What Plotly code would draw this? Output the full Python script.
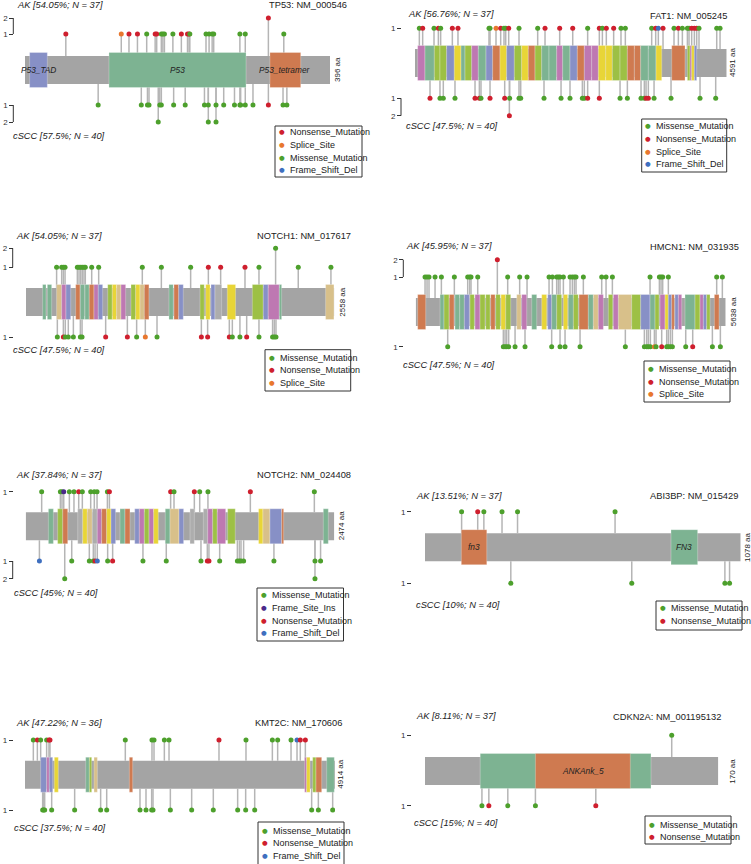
import plotly.graph_objects as go

W, H = 751, 864
FONT = "Liberation Sans, Arial, sans-serif"

# ---------------- data ----------------
MUT_NAMES = {"M": "Missense_Mutation", "N": "Nonsense_Mutation", "S": "Splice_Site",
             "D": "Frame_Shift_Del", "I": "Frame_Site_Ins"}
MUT_COLORS = {"M": "#4DA02C", "N": "#CF1F2E", "S": "#E8772E", "D": "#3F6FBF", "I": "#4B2A8A"}
DOM_COLORS = {"T": "#7DB392", "B": "#8790C6", "O": "#CF7A50", "P": "#BE78B2", "Y": "#E8D537",
              "G": "#9DC045", "N": "#D8C08A", "Z": "#ADADAD"}
BODY = "#A4A4A4"

genes = ["TP53", "FAT1", "NOTCH1", "HMCN1", "NOTCH2", "ABI3BP", "KMT2C", "CDKN2A"]
refseq = ["NM_000546", "NM_005245", "NM_017617", "NM_031935", "NM_024408", "NM_015429",
          "NM_170606", "NM_001195132"]
lengths = [396, 4591, 2558, 5638, 2474, 1078, 4914, 170]
ak_pct = ["54.05", "56.76", "54.05", "45.95", "37.84", "13.51", "47.22", "8.11"]
ak_n = [37, 37, 37, 37, 37, 37, 36, 37]
cscc_pct = ["57.5", "47.5", "47.5", "47.5", "45", "10", "37.5", "15"]
cscc_n = [40, 40, 40, 40, 40, 40, 40, 40]
legend_types = [["N", "S", "M", "D"], ["M", "N", "S", "D"], ["M", "N", "S"], ["M", "N", "S"],
                ["M", "I", "N", "D"], ["M", "N"], ["M", "N", "D"], ["M", "N"]]

# domains: (start, end, colour key, label)
TP53_dom = [(6, 29, "B", "P53_TAD"), (109, 287, "T", "P53"), (318, 358, "O", "P53_tetramer")]
FAT1_dom = [(39, 147, "P", ""), (147, 285, "T", ""), (285, 368, "G", ""), (368, 466, "G", ""),
            (466, 579, "B", ""), (579, 678, "Y", ""), (678, 737, "T", ""), (737, 835, "G", ""),
            (835, 933, "P", ""), (933, 1046, "T", ""), (1046, 1144, "B", ""), (1144, 1252, "O", ""),
            (1252, 1350, "Y", ""), (1350, 1463, "B", ""), (1463, 1571, "G", ""), (1571, 1669, "Y", ""),
            (1669, 1768, "O", ""), (1768, 1866, "G", ""), (1866, 1974, "T", ""), (1974, 2087, "T", ""),
            (2087, 2175, "P", ""), (2175, 2283, "T", ""), (2283, 2391, "B", ""), (2391, 2494, "O", ""),
            (2494, 2602, "P", ""), (2602, 2701, "P", ""), (2701, 2809, "Y", ""), (2809, 2907, "Y", ""),
            (2907, 3020, "G", ""), (3020, 3128, "G", ""), (3128, 3231, "O", ""), (3231, 3324, "O", ""),
            (3324, 3437, "T", ""), (3437, 3550, "T", ""), (3550, 3634, "Y", ""), (3781, 3977, "O", ""),
            (4012, 4051, "G", ""), (4051, 4075, "P", ""), (4075, 4115, "Y", ""), (4115, 4149, "B", "")]
NOTCH1_dom = [(138, 166, "T", ""), (177, 213, "T", ""), (254, 296, "N", ""), (296, 332, "P", ""),
              (332, 371, "B", ""), (412, 448, "O", ""), (451, 487, "T", ""), (489, 525, "T", ""),
              (525, 564, "O", ""), (564, 600, "P", ""), (600, 636, "B", ""), (678, 716, "G", ""),
              (716, 752, "Y", ""), (752, 788, "N", ""), (788, 827, "P", ""), (871, 910, "G", ""),
              (910, 946, "Y", ""), (946, 982, "N", ""), (982, 1020, "O", ""), (1186, 1222, "T", ""),
              (1228, 1267, "O", ""), (1267, 1305, "B", ""), (1444, 1479, "G", ""), (1491, 1527, "Y", ""),
              (1535, 1568, "B", ""), (1568, 1623, "Z", ""), (1670, 1739, "Y", ""), (1878, 1969, "G", ""),
              (1969, 2010, "B", ""), (2010, 2102, "P", ""), (2102, 2121, "T", ""), (2486, 2555, "N", "")]
HMCN1_dom = [(36, 182, "O", ""), (443, 515, "T", ""), (515, 606, "G", ""), (612, 697, "O", ""),
             (715, 800, "T", ""), (800, 885, "T", ""), (885, 976, "B", ""), (988, 1067, "G", ""),
             (1079, 1170, "P", ""), (1170, 1261, "G", ""), (1273, 1352, "G", ""), (1364, 1443, "O", ""),
             (1455, 1540, "G", ""), (1552, 1637, "Y", ""), (1637, 1728, "G", ""), (1837, 1916, "N", ""),
             (1928, 2019, "P", ""), (2110, 2201, "T", ""), (2292, 2382, "Y", ""), (2401, 2473, "B", ""),
             (2473, 2564, "T", ""), (2564, 2655, "G", ""), (2686, 2764, "Y", ""), (2776, 2868, "T", ""),
             (2868, 2958, "G", ""), (2971, 3140, "O", ""), (3140, 3231, "T", ""), (3231, 3322, "N", ""),
             (3322, 3413, "P", ""), (3504, 3583, "G", ""), (3595, 3686, "P", ""), (3686, 3928, "N", ""),
             (3928, 4092, "G", ""), (4092, 4262, "B", ""), (4262, 4353, "T", ""), (4353, 4426, "G", ""),
             (4444, 4535, "P", ""), (4535, 4595, "Y", ""), (4595, 4656, "B", ""), (4656, 4704, "O", ""),
             (4716, 4777, "B", ""), (4777, 4838, "P", ""), (4898, 5080, "T", ""), (5080, 5171, "G", ""),
             (5171, 5232, "P", ""), (5232, 5292, "B", ""), (5292, 5353, "G", ""), (5432, 5517, "O", "")]
NOTCH2_dom = [(182, 222, "T", ""), (256, 297, "G", ""), (297, 337, "O", ""), (417, 457, "Z", ""),
              (457, 494, "Y", ""), (494, 534, "N", ""), (534, 574, "Z", ""), (574, 609, "P", ""),
              (609, 649, "O", ""), (649, 684, "Y", ""), (684, 721, "B", ""), (756, 796, "T", ""),
              (796, 836, "O", ""), (874, 911, "B", ""), (911, 951, "P", ""), (951, 989, "G", ""),
              (989, 1026, "P", ""), (1026, 1063, "Y", ""), (1119, 1157, "T", ""), (1157, 1229, "N", ""),
              (1229, 1266, "B", ""), (1317, 1352, "Z", ""), (1424, 1459, "Z", ""), (1459, 1499, "P", ""),
              (1499, 1536, "G", ""), (1536, 1603, "P", ""), (1619, 1680, "G", ""), (1867, 1902, "Y", ""),
              (1902, 1958, "N", ""), (1958, 2052, "B", ""), (2052, 2068, "O", ""), (2386, 2426, "T", "")]
ABI3BP_dom = [(124, 211, "O", "fn3"), (840, 931, "T", "FN3")]
KMT2C_dom = [(248, 343, "B", ""), (343, 386, "P", ""), (386, 439, "B", ""), (465, 528, "Y", ""),
             (962, 1020, "T", ""), (1020, 1057, "G", ""), (1094, 1147, "N", ""), (1654, 1707, "O", ""),
             (4433, 4465, "P", ""), (4465, 4518, "Y", ""), (4560, 4613, "G", ""), (4613, 4703, "O", ""),
             (4782, 4903, "T", "")]
CDKN2A_dom = [(32, 131, "T", ""), (64, 119, "O", "ANKAnk_5")]

# mutations: (protein position, number of samples, type)
TP53_ak = [(53, 1, "N"), (125, 1, "S"), (135, 1, "N"), (146, 1, "N"), (158, 1, "M"), (169, 1, "N"),
           (171, 1, "N"), (177, 1, "M"), (179, 1, "M"), (181, 1, "M"), (192, 1, "M"), (203, 1, "N"),
           (211, 1, "N"), (213, 1, "N"), (214, 1, "M"), (235, 1, "M"), (239, 1, "M"), (243, 1, "M"),
           (245, 1, "M"), (279, 1, "M"), (286, 1, "M"), (316, 2, "N"), (336, 1, "M")]
TP53_cscc = [(95, 1, "M"), (151, 1, "M"), (159, 1, "M"), (161, 1, "M"), (173, 2, "M"), (175, 1, "M"),
             (177, 1, "M"), (193, 1, "M"), (208, 1, "M"), (233, 1, "M"), (238, 1, "M"), (238, 2, "M"),
             (248, 1, "M"), (248, 2, "M"), (258, 1, "M"), (272, 1, "M"), (279, 1, "M"), (280, 1, "M"),
             (286, 1, "M"), (296, 1, "M"), (316, 1, "N"), (335, 1, "M"), (340, 1, "M")]
FAT1_ak = [(64, 1, "M"), (113, 1, "N"), (280, 1, "M"), (344, 1, "N"), (378, 1, "M"), (550, 1, "N"),
           (633, 1, "N"), (1090, 1, "M"), (1105, 1, "M"), (1193, 1, "S"), (1262, 1, "N"), (1311, 1, "M"),
           (1336, 1, "M"), (1380, 1, "N"), (1532, 1, "M"), (1807, 1, "M"), (1915, 1, "N"), (2131, 1, "N"),
           (2323, 1, "N"), (2543, 1, "M"), (2715, 1, "N"), (2760, 1, "M"), (2818, 1, "N"), (2926, 1, "N"),
           (3034, 1, "M"), (3098, 1, "M"), (3486, 1, "M"), (3545, 1, "N"), (3584, 1, "D"), (3653, 1, "N"),
           (3815, 1, "M"), (3879, 1, "N"), (3938, 1, "M"), (4012, 1, "M"), (4036, 1, "M"), (4075, 1, "N"),
           (4115, 1, "N"), (4149, 1, "N"), (4183, 1, "M"), (4444, 1, "M"), (4493, 1, "M")]
FAT1_cscc = [(221, 1, "N"), (368, 1, "M"), (417, 1, "M"), (589, 1, "M"), (884, 1, "N"), (948, 1, "N"),
             (972, 1, "M"), (1105, 1, "N"), (1321, 1, "N"), (1390, 2, "N"), (1394, 1, "M"), (1532, 1, "M"),
             (1557, 1, "M"), (1900, 1, "M"), (2151, 1, "M"), (2283, 1, "M"), (2465, 1, "M"), (2494, 1, "M"),
             (2543, 1, "N"), (2715, 1, "N"), (3020, 1, "M"), (3128, 1, "M"), (3329, 1, "M"), (3378, 1, "M"),
             (3403, 1, "N"), (3437, 1, "N"), (3521, 1, "M"), (3771, 1, "M"), (4198, 1, "M"), (4429, 1, "M")]
NOTCH1_ak = [(254, 1, "M"), (296, 1, "M"), (310, 1, "M"), (324, 1, "M"), (426, 1, "M"), (440, 1, "M"),
             (454, 1, "M"), (467, 1, "M"), (481, 1, "M"), (492, 1, "M"), (545, 1, "M"), (603, 1, "M"),
             (965, 1, "M"), (1123, 1, "M"), (1366, 1, "M"), (1513, 1, "N"), (1615, 1, "N"), (1817, 1, "N"),
             (1933, 1, "M"), (2071, 2, "M"), (2259, 1, "M"), (2530, 1, "M")]
NOTCH1_cscc = [(260, 1, "M"), (310, 1, "N"), (326, 1, "M"), (351, 1, "M"), (393, 1, "M"), (451, 1, "M"),
               (465, 1, "M"), (661, 1, "N"), (841, 1, "N"), (918, 1, "M"), (990, 1, "S"), (1087, 1, "M"),
               (1455, 1, "N"), (1507, 1, "N"), (1687, 1, "N"), (1712, 1, "M"), (1775, 1, "M"),
               (1831, 1, "N"), (1933, 1, "M"), (2046, 1, "M"), (2060, 1, "M"), (2074, 1, "M")]
HMCN1_ak = [(170, 1, "M"), (206, 1, "M"), (242, 1, "M"), (352, 1, "M"), (467, 1, "M"), (703, 1, "M"),
            (946, 1, "M"), (982, 1, "M"), (1006, 1, "M"), (1128, 1, "M"), (1485, 2, "N"), (1673, 1, "M"),
            (1891, 1, "M"), (2025, 1, "M"), (2425, 1, "M"), (2486, 1, "M"), (2564, 1, "M"), (2595, 1, "M"),
            (2625, 1, "M"), (2686, 1, "M"), (2807, 1, "M"), (2849, 1, "M"), (2886, 1, "M"), (2916, 1, "M"),
            (3049, 1, "M"), (3383, 1, "M"), (3462, 1, "M"), (3577, 1, "M"), (4262, 1, "M"), (4432, 1, "M"),
            (4462, 1, "M"), (4492, 1, "M"), (4595, 1, "M"), (5474, 1, "M"), (5577, 1, "M")]
HMCN1_cscc = [(582, 1, "M"), (1594, 1, "M"), (1625, 1, "M"), (1655, 1, "M"), (1691, 1, "M"), (1807, 1, "M"),
              (1988, 1, "M"), (2473, 1, "M"), (2625, 1, "M"), (2716, 1, "M"), (2989, 1, "M"), (3813, 1, "M"),
              (4159, 1, "M"), (4201, 1, "M"), (4231, 1, "M"), (4268, 1, "M"), (4341, 1, "S"), (4371, 1, "M"),
              (4474, 1, "N"), (4565, 1, "M"), (4595, 1, "M"), (4632, 1, "M"), (4668, 1, "M"), (4911, 1, "M"),
              (5038, 1, "N"), (5396, 1, "M"), (5541, 1, "M")]
NOTCH2_ak = [(128, 1, "M"), (278, 1, "M"), (291, 1, "M"), (305, 1, "I"), (350, 1, "M"), (387, 1, "M"),
             (425, 1, "N"), (454, 1, "M"), (521, 1, "M"), (550, 1, "M"), (572, 1, "M"), (655, 1, "M"),
             (671, 1, "N"), (1162, 1, "N"), (1189, 1, "M"), (1352, 1, "N"), (1395, 1, "M"), (1461, 1, "M"),
             (1801, 1, "N"), (2314, 1, "M")]
NOTCH2_cscc = [(110, 1, "D"), (313, 2, "M"), (369, 1, "M"), (510, 1, "M"), (542, 1, "M"), (556, 1, "N"),
               (574, 1, "D"), (657, 1, "M"), (697, 1, "N"), (940, 1, "M"), (1127, 1, "M"), (1405, 1, "M"),
               (1456, 1, "N"), (1469, 1, "N"), (1555, 1, "M"), (1697, 1, "M"), (1713, 1, "M"), (1726, 1, "M"),
               (1747, 1, "M"), (1990, 1, "M"), (2319, 1, "M"), (2319, 2, "M"), (2364, 1, "M")]
ABI3BP_ak = [(125, 1, "M"), (180, 1, "N"), (201, 1, "M"), (263, 1, "M"), (316, 1, "M"), (649, 1, "M")]
ABI3BP_cscc = [(293, 1, "M"), (706, 1, "M"), (1024, 1, "M"), (1040, 1, "M")]
KMT2C_ak = [(132, 1, "M"), (196, 1, "N"), (248, 1, "M"), (343, 1, "M"), (380, 1, "N"), (396, 1, "N"),
            (1590, 1, "M"), (2013, 1, "M"), (2045, 1, "M"), (2209, 1, "M"), (2283, 1, "M"), (3075, 1, "N"),
            (3503, 1, "M"), (3921, 1, "M"), (4005, 1, "M"), (4217, 1, "M"), (4312, 1, "D"), (4364, 1, "N"),
            (4444, 1, "N")]
KMT2C_cscc = [(280, 1, "M"), (296, 1, "M"), (312, 1, "M"), (423, 1, "M"), (787, 1, "M"), (1199, 1, "M"),
              (1295, 1, "M"), (1823, 1, "M"), (1918, 1, "M"), (2008, 1, "M"), (2029, 1, "M"), (2304, 1, "M"),
              (2642, 1, "M"), (2985, 1, "M"), (3371, 1, "M"), (3498, 1, "M"), (3641, 1, "M"), (4544, 1, "M"),
              (4650, 1, "M"), (4877, 1, "M")]
CDKN2A_ak = [(143, 1, "M")]
CDKN2A_cscc = [(33, 1, "M"), (37, 1, "N"), (48, 1, "M"), (64, 1, "M"), (99, 1, "N")]

domains = [TP53_dom, FAT1_dom, NOTCH1_dom, HMCN1_dom, NOTCH2_dom, ABI3BP_dom, KMT2C_dom, CDKN2A_dom]
ak_muts = [TP53_ak, FAT1_ak, NOTCH1_ak, HMCN1_ak, NOTCH2_ak, ABI3BP_ak, KMT2C_ak, CDKN2A_ak]
cscc_muts = [TP53_cscc, FAT1_cscc, NOTCH1_cscc, HMCN1_cscc, NOTCH2_cscc, ABI3BP_cscc, KMT2C_cscc,
             CDKN2A_cscc]

# ---------------- layout geometry (pixels) ----------------
geo = [
    dict(gx0=25, gx1=330, cy=70, ak1=36, aks=16, sc1=35, scs=17, axx=13.3, akl=(15, 5), ttl=(349, 5),
         aax=337, scl=(11, 136), leg=(275, 126, 362, 177), ly=132, ldy=12.8),
    dict(gx0=415, gx1=726.7, cy=63, ak1=34.7, aks=17, sc1=35.3, scs=17.4, axx=401, akl=(406, 14),
         ttl=(729, 15.7), aax=733, scl=(404, 126), leg=(641.7, 119, 726.7, 172), ly=126, ldy=12.8),
    dict(gx0=26, gx1=334.3, cy=302, ak1=34.7, aks=19, sc1=35, scs=17, axx=12.7, akl=(14, 235.7),
         ttl=(352.7, 235.7), aax=341.7, scl=(11, 350), leg=(265, 349.7, 350.7, 391), ly=357.7, ldy=12.7),
    dict(gx0=415.7, gx1=725.7, cy=312, ak1=35, aks=17.3, sc1=34.7, scs=17, axx=403.3, akl=(404.3, 245.7),
         ttl=(740.7, 246.7), aax=733.3, scl=(401, 365), leg=(644, 361, 730, 402), ly=369, ldy=12.7),
    dict(gx0=25.7, gx1=334.3, cy=526.3, ak1=34.6, aks=17, sc1=34.7, scs=17.7, axx=12.7, akl=(14, 475),
         ttl=(352.7, 475), aax=341, scl=(11.7, 593.3), leg=(257, 588, 343.5, 641), ly=595, ldy=12.8),
    dict(gx0=425, gx1=740.7, cy=547.2, ak1=35.5, aks=17, sc1=36.1, scs=17, axx=411, akl=(414, 496),
         ttl=(740, 496), aax=746.7, scl=(414, 605), leg=(656, 601, 742, 630), ly=608, ldy=12.5),
    dict(gx0=25, gx1=335, cy=774.7, ak1=34.7, aks=17, sc1=35.3, scs=17, axx=12.7, akl=(14, 723.3),
         ttl=(344, 723.3), aax=341, scl=(11.7, 827.7), leg=(258, 822, 344, 870), ly=830.5, ldy=12.8),
    dict(gx0=425, gx1=718.3, cy=771, ak1=35.7, aks=17, sc1=34.7, scs=17, axx=411, akl=(414, 716),
         ttl=(723.3, 716.7), aax=731.7, scl=(411.7, 823.3), leg=(645, 816, 731, 844), ly=824.5, ldy=12.8),
]
R = 60          # half height (px) of each panel's y range
BODY_H = 14     # half height of gene body
DOM_H = 17.5    # half height of domains
TXT = 9.3       # size of panel labels
LEGTXT = 9      # size of legend labels


def px(x):
    return x / W


def py(y):
    return 1 - y / H


fig = go.Figure()
shapes, annots = [], []
layout_axes = {}

for k, g in enumerate(genes):
    n = k + 1
    G = geo[k]
    xr = "x" if n == 1 else f"x{n}"
    yr = "y" if n == 1 else f"y{n}"
    L = lengths[k]

    ak_off = lambda c, G=G: G["ak1"] + (c - 1) * G["aks"]
    sc_off = lambda c, G=G: -(G["sc1"] + (c - 1) * G["scs"])

    max_ak = max(m[1] for m in ak_muts[k])
    max_sc = max(m[1] for m in cscc_muts[k])
    tickvals = [ak_off(c) for c in range(1, max_ak + 1)] + [sc_off(c) for c in range(1, max_sc + 1)]
    ticktext = [str(c) for c in range(1, max_ak + 1)] + [str(c) for c in range(1, max_sc + 1)]

    layout_axes["xaxis" if n == 1 else f"xaxis{n}"] = dict(
        domain=[px(G["gx0"]), px(G["gx1"])], range=[0, L], visible=False, anchor=yr, fixedrange=True)
    layout_axes["yaxis" if n == 1 else f"yaxis{n}"] = dict(
        domain=[py(G["cy"] + R), py(G["cy"] - R)], range=[-R, R], anchor="free", position=px(G["axx"]),
        tickvals=tickvals, ticktext=ticktext, ticks="outside", ticklen=4, tickwidth=1, tickcolor="#333",
        showline=False, showgrid=False, zeroline=False, automargin=False, fixedrange=True,
        tickfont=dict(size=8, color="#333", family=FONT))

    # brackets
    if max_ak > 1:
        shapes.append(dict(type="line", xref="paper", yref=yr, x0=px(G["axx"]), x1=px(G["axx"]),
                           y0=ak_off(1), y1=ak_off(max_ak), line=dict(color="#333", width=1)))
    if max_sc > 1:
        shapes.append(dict(type="line", xref="paper", yref=yr, x0=px(G["axx"]), x1=px(G["axx"]),
                           y0=sc_off(1), y1=sc_off(max_sc), line=dict(color="#333", width=1)))

    # gene body
    shapes.append(dict(type="rect", xref=xr, yref=yr, x0=0, x1=L, y0=-BODY_H, y1=BODY_H,
                       fillcolor=BODY, line=dict(width=0), layer="below"))
    # domains
    for s, e, ck, lab in domains[k]:
        shapes.append(dict(type="rect", xref=xr, yref=yr, x0=s, x1=e, y0=-DOM_H, y1=DOM_H,
                           fillcolor=DOM_COLORS[ck], line=dict(color="rgba(255,255,255,0.45)", width=0.6),
                           layer="above"))
    for s, e, ck, lab in domains[k]:
        if lab:
            annots.append(dict(xref=xr, yref=yr, x=(s + e) / 2, y=0, text=f"<i>{lab}</i>", showarrow=False,
                               font=dict(size=8.3, color="#222", family=FONT), xanchor="center",
                               yanchor="middle"))

    # lollipops
    sx, sy, hx, hy, hc, ht = [], [], [], [], [], []
    for muts, off, sign in ((ak_muts[k], ak_off, 1), (cscc_muts[k], sc_off, -1)):
        for pos, cnt, t in muts:
            sx += [pos, pos, None]
            sy += [sign * BODY_H, off(cnt), None]
    fig.add_trace(go.Scatter(x=sx, y=sy, mode="lines", xaxis=xr, yaxis=yr, hoverinfo="skip",
                             line=dict(color="#B5B5B5", width=1.5), showlegend=False))
    for muts, off, grp in ((ak_muts[k], ak_off, "AK"), (cscc_muts[k], sc_off, "cSCC")):
        for pos, cnt, t in muts:
            hx.append(pos)
            hy.append(off(cnt))
            hc.append(MUT_COLORS[t])
            ht.append(f"{grp} {g} aa {pos}: {MUT_NAMES[t]} (n={cnt})")
    fig.add_trace(go.Scatter(x=hx, y=hy, mode="markers", xaxis=xr, yaxis=yr, text=ht, hoverinfo="text",
                             marker=dict(color=hc, size=5, line=dict(width=0)), showlegend=False))

    # texts
    annots.append(dict(xref="paper", yref="paper", x=px(G["akl"][0]), y=py(G["akl"][1]),
                       text=f"<i>AK [{ak_pct[k]}%; N = {ak_n[k]}]</i>", showarrow=False,
                       xanchor="left", yanchor="middle", font=dict(size=TXT, color="#222", family=FONT)))
    annots.append(dict(xref="paper", yref="paper", x=px(G["ttl"][0]), y=py(G["ttl"][1]),
                       text=f"{g}: {refseq[k]}", showarrow=False,
                       xanchor="right", yanchor="middle", font=dict(size=TXT, color="#222", family=FONT)))
    annots.append(dict(xref="paper", yref="paper", x=px(G["scl"][0]), y=py(G["scl"][1]),
                       text=f"<i>cSCC [{cscc_pct[k]}%; N = {cscc_n[k]}]</i>", showarrow=False,
                       xanchor="left", yanchor="middle", font=dict(size=TXT, color="#222", family=FONT)))
    annots.append(dict(xref="paper", yref=yr, x=px(G["aax"]), y=0, text=f"{L} aa", textangle=-90,
                       showarrow=False, xanchor="center", yanchor="middle",
                       font=dict(size=8, color="#222", family=FONT)))

    # legend box
    lx0, ly0, lx1, ly1 = G["leg"]
    shapes.append(dict(type="rect", xref="paper", yref="paper", x0=px(lx0), x1=px(lx1), y0=py(ly1),
                       y1=py(ly0), line=dict(color="#333", width=1), fillcolor="rgba(0,0,0,0)"))
    for j, t in enumerate(legend_types[k]):
        yy = G["ly"] + j * G["ldy"]
        annots.append(dict(xref="paper", yref="paper", x=px(lx0 + 6.7), y=py(yy), text="●",
                           showarrow=False, xanchor="center", yanchor="middle",
                           font=dict(size=6.5, color=MUT_COLORS[t], family="DejaVu Sans")))
        annots.append(dict(xref="paper", yref="paper", x=px(lx0 + 12.5), y=py(yy), text=MUT_NAMES[t],
                           showarrow=False, xanchor="left", yanchor="middle",
                           font=dict(size=LEGTXT, color="#222", family=FONT)))

fig.update_layout(width=W, height=H, margin=dict(l=0, r=0, t=0, b=0), plot_bgcolor="white",
                  paper_bgcolor="white", shapes=shapes, annotations=annots, showlegend=False,
                  font=dict(family=FONT), **layout_axes)
fig.write_html("out.html", config={"displayModeBar": False},
               post_script="document.body.style.margin='0px';document.body.style.overflow='hidden';")
